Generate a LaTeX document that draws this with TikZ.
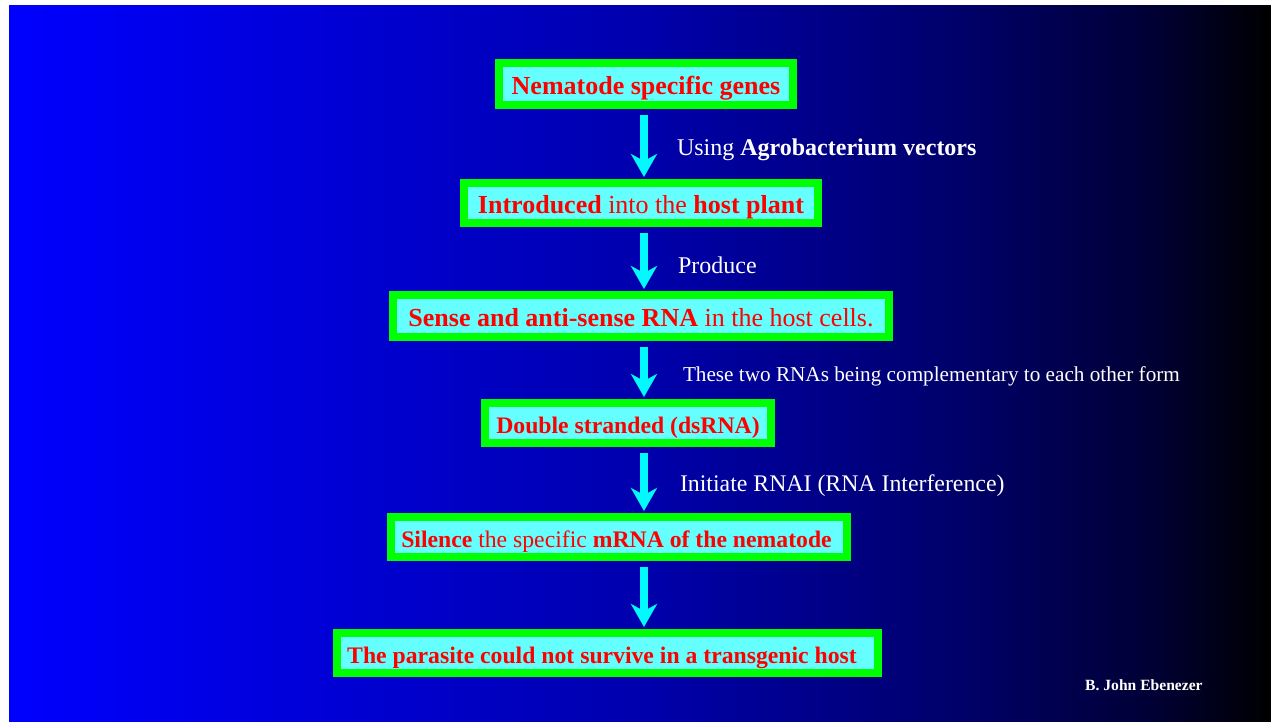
\documentclass[tikz,border=0pt]{standalone}
\usepackage{fontspec}
\setmainfont{Liberation Serif}
\usetikzlibrary{arrows.meta,positioning}
\definecolor{boxgreen}{RGB}{0,255,0}
\definecolor{boxfill}{RGB}{102,255,255}
\definecolor{arrowcyan}{RGB}{0,250,255}
\pgfdeclarehorizontalshading{slidebg}{100bp}{rgb(0bp)=(0,0,1); rgb(25bp)=(0,0,1); rgb(50bp)=(0,0,0.68); rgb(62.5bp)=(0,0,0.42); rgb(70.5bp)=(0,0,0.2); rgb(75bp)=(0,0,0); rgb(100bp)=(0,0,0)}
\begin{document}
\begin{tikzpicture}[x=1pt, y=-1pt,
        box/.style={draw=boxgreen, line width=8pt, fill=boxfill, minimum height=40pt,
            inner sep=0pt, text=red, text height=26pt, text depth=5pt,
            font=\fontsize{26}{30}\selectfont},
        smallbox/.style={box, text height=24pt, text depth=4pt,
            font=\fontsize{23.7}{28}\selectfont},
        flow/.style={-{Stealth[length=23pt, width=26pt, inset=7pt]}, line width=8pt,
            draw=arrowcyan, shorten <=6pt, shorten >=2pt},
        lbl/.style={text=white, inner sep=0pt, yshift=-6pt, font=\fontsize{24}{28}\selectfont}]
    \useasboundingbox (0,0) rectangle (1271,721);
    \shade[shading=slidebg] (9,5) rectangle (1271,721);
    \coordinate (axis) at (644,0);
    \node[box, minimum width=294pt, minimum height=42pt] (genes) at (646,84)
        {\textbf{Nematode specific genes}};
    \node[box, minimum width=354pt] (inject) at (641,203)
        {\textbf{Introduced} into the \textbf{host plant}};
    \node[box, minimum width=496pt, minimum height=42pt] (senses) at (641,316)
        {\textbf{Sense and anti-sense RNA} in the host cells.};
    \node[smallbox, minimum width=286pt] (dsrna) at (628,423)
        {\textbf{Double stranded (dsRNA)}};
    \node[smallbox, minimum width=456pt] (silence) at (619,537)
        {\textbf{Silence} the specific \textbf{mRNA of the nematode}\kern5pt};
    \node[smallbox, minimum width=541pt] (parasite) at (607.5,653)
        {\textbf{The parasite could not survive in a transgenic host}\kern11pt};
    % steps
    \draw[flow] (genes.south -| axis) -- (inject.north -| axis)
        node[lbl, midway, right=29pt] (vector) {Using \textbf{Agrobacterium vectors}};
    \draw[flow] (inject.south -| axis) -- (senses.north -| axis)
        node[lbl, midway, right=30pt] (produce) {Produce};
    \draw[flow] (senses.south -| axis) -- (dsrna.north -| axis)
        node[lbl, midway, right=35pt, font=\fontsize{21.2}{25}\selectfont] (pairing)
        {These two RNAs being complementary to each other form};
    \draw[flow] (dsrna.south -| axis) -- (silence.north -| axis)
        node[lbl, midway, right=32pt, font=\fontsize{23.8}{28}\selectfont] (rnai)
        {Initiate RNAI (RNA Interference)};
    \draw[flow] (silence.south -| axis) -- (parasite.north -| axis);
    \node[text=white, anchor=west, inner sep=0pt, font=\bfseries\fontsize{15.6}{18}\selectfont]
        (author) at (1085,685) {B. John Ebenezer};
\end{tikzpicture}
\end{document}
